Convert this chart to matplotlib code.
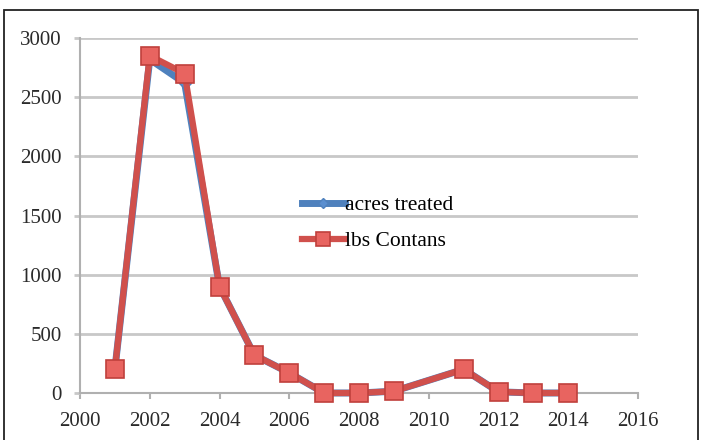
import matplotlib
matplotlib.use("Agg")
import matplotlib.pyplot as plt
from matplotlib.patches import Rectangle

years = [2001, 2002, 2003, 2004, 2005, 2006, 2007, 2008, 2009, 2011, 2012, 2013, 2014]
acres_treated = [200, 2820, 2620, 900, 320, 170, 0, 0, 15, 200, 10, 0, 0]
lbs_contans = [200, 2850, 2700, 900, 320, 170, 0, 0, 15, 200, 10, 0, 0]
y_ticks = [0, 500, 1000, 1500, 2000, 2500, 3000]
x_ticks = [2000, 2002, 2004, 2006, 2008, 2010, 2012, 2014, 2016]

W, H = 702, 440
fig = plt.figure(figsize=(W / 100, H / 100), dpi=100)
fig.patch.set_facecolor("white")

# outer frame
fig.add_artist(Rectangle((4 / W, -0.01), (W - 8) / W, 1 - 10 / H + 0.01,
                         transform=fig.transFigure, fill=False,
                         edgecolor="#222222", linewidth=1.3))

ax = fig.add_axes([80 / W, 1 - 393 / H, (638 - 80) / W, (393 - 38) / H])
ax.set_xlim(2000, 2016)
ax.set_ylim(0, 3000)

blue = "#4f81bd"
red = "#d0504c"

ax.plot(years, acres_treated, color=blue, linewidth=5, marker="D",
        markersize=6, markerfacecolor="#5b8fd0", markeredgecolor=blue,
        label="acres treated", zorder=3, solid_joinstyle="round",
        clip_on=False)
ax.plot(years, lbs_contans, color=red, linewidth=4.5, marker="s",
        markersize=13, markerfacecolor="#e86460", markeredgecolor="#c0403c",
        markeredgewidth=1.2, label="lbs Contans", zorder=4,
        solid_joinstyle="round", clip_on=False)

ax.set_yticks(y_ticks)
ax.set_xticks(x_ticks)
ax.set_yticklabels([str(v) for v in y_ticks])
ax.set_xticklabels([str(v) for v in x_ticks])
ax.grid(axis="y", color="#c8c8c8", linewidth=2)
ax.set_axisbelow(True)

for side in ("top", "right"):
    ax.spines[side].set_visible(False)
ax.spines["left"].set_color("#b0b0b0")
ax.spines["bottom"].set_color("#b0b0b0")
ax.spines["left"].set_linewidth(1.5)
ax.spines["bottom"].set_linewidth(1.5)

ax.tick_params(axis="x", direction="out", length=4.5, width=1.5,
               color="#b0b0b0", labelsize=15, pad=9)
ax.tick_params(axis="y", direction="out", length=4.5, width=2,
               color="#c8c8c8", labelsize=15, pad=8.5)
for lab in ax.get_xticklabels() + ax.get_yticklabels():
    lab.set_fontfamily("Liberation Serif")
    lab.set_color("#2a2a2a")

leg = ax.legend(loc="upper left", bbox_to_anchor=(0.378, 0.588), frameon=False,
                prop={"family": "Liberation Serif", "size": 15.5},
                handlelength=2.0, handletextpad=0.0, labelspacing=0.75,
                markerscale=0.8, borderpad=0)

fig.savefig("out.png", dpi=100)
